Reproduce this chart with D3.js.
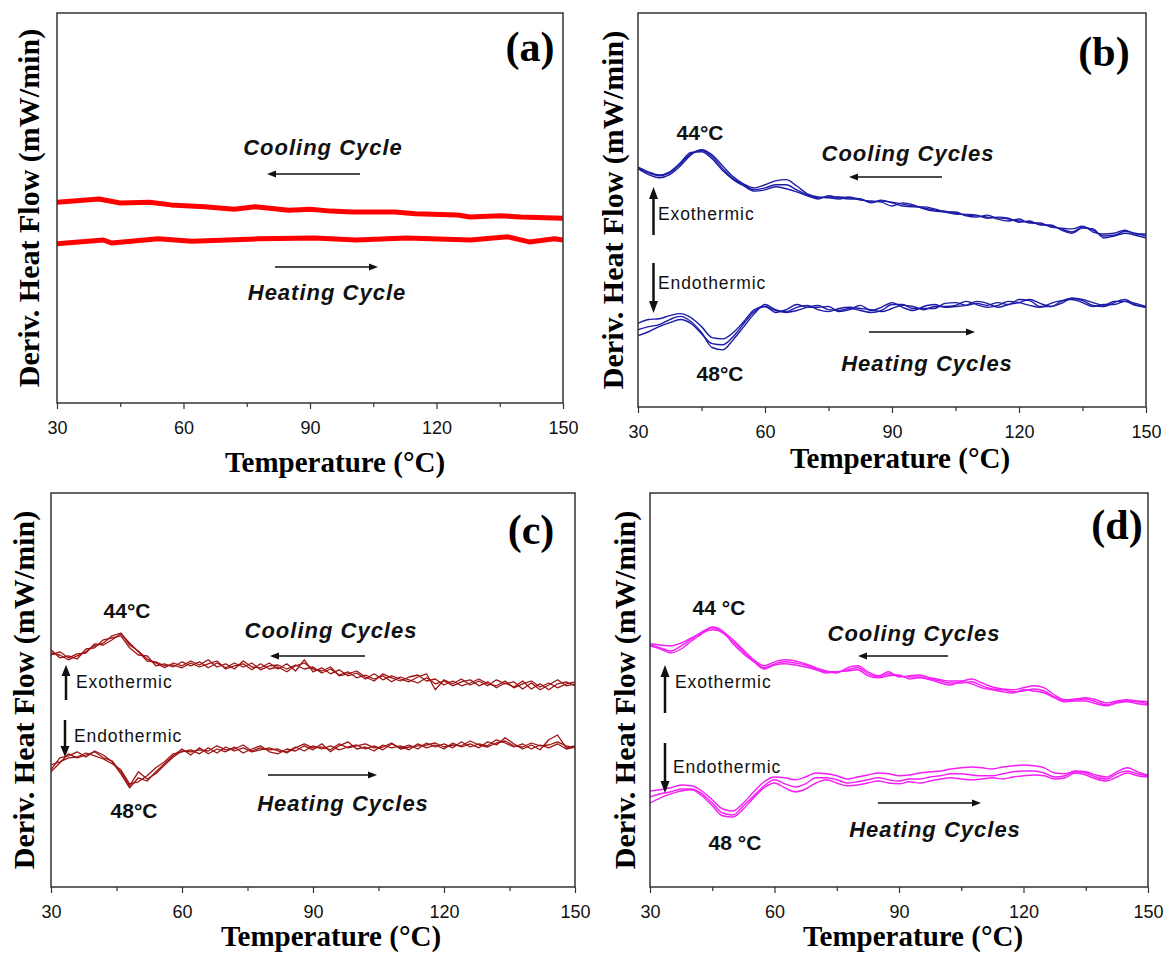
<!DOCTYPE html>
<html>
<head>
<meta charset="utf-8">
<script src="https://cdn.jsdelivr.net/npm/d3@7"></script>
<style>
  body { margin: 0; background: #fff; }
</style>
</head>
<body>
<script>
// x ticks shared by every panel
var xMajor = [30, 60, 90, 120, 150];
var xMinor = [45, 75, 105, 135];

// panel (a) - single cycle each, arbitrary units
var tempA_cool = [30, 40, 45, 52, 57, 65, 72, 77, 85, 90, 95, 100, 110, 115, 125, 128, 135, 140, 150];
var flowA_cool = [51.5, 52.3, 51.3, 51.5, 50.8, 50.3, 49.7, 50.3, 49.4, 49.7, 49.2, 49.0, 49.0, 48.5, 48.2, 47.7, 48.0, 47.7, 47.4];
var tempA_heat = [30, 41, 43, 54, 62, 78, 91, 101, 113, 128, 137, 142, 148, 150];
var flowA_heat = [40.8, 41.8, 41.0, 42.1, 41.5, 42.1, 42.3, 41.8, 42.3, 41.8, 42.6, 41.3, 42.1, 41.8];

// temperature grid for (b) and (d)
var tempBD = [30, 32.5, 35, 37.5, 40, 42.5, 45, 47.5, 50, 52.5, 55, 57.5, 60, 62.5, 65, 67.5, 70, 72.5, 75, 77.5,
  80, 82.5, 85, 87.5, 90, 92.5, 95, 97.5, 100, 102.5, 105, 107.5, 110, 112.5, 115, 117.5, 120, 122.5, 125, 127.5,
  130, 132.5, 135, 137.5, 140, 142.5, 145, 147.5, 150];

// panel (b) - three cycles
var flowB_cool1 = [60.7, 59.4, 58.7, 59.4, 61.7, 64.3, 65.1, 63.5, 60.5, 57.9, 56.4, 55.1, 55.6, 56.4, 56.4, 55.1, 53.8, 53.1, 53.3, 53.3,
  53.1, 52.8, 52.0, 52.3, 52.0, 51.5, 51.0, 50.5, 50.0, 49.7, 49.2, 48.7, 48.5, 48.2, 48.0, 47.7, 47.2, 46.9, 46.4, 45.9,
  45.2, 44.4, 45.7, 44.9, 43.4, 43.6, 44.6, 44.1, 43.4];
var flowB_cool2 = [60.5, 59.0, 58.2, 59.0, 61.2, 64.0, 65.3, 64.0, 61.2, 58.4, 56.6, 55.6, 56.4, 57.4, 57.7, 56.1, 54.1, 53.3, 53.1, 52.8,
  53.3, 52.5, 52.3, 52.0, 51.0, 51.8, 51.3, 50.3, 49.7, 49.5, 49.5, 48.5, 48.2, 48.7, 47.7, 47.2, 47.7, 46.7, 46.7, 45.7,
  45.4, 45.2, 45.9, 44.4, 43.9, 44.1, 44.9, 43.9, 43.9];
var flowB_cool3 = [60.9, 59.7, 58.9, 59.7, 62.0, 64.6, 64.8, 63.0, 60.0, 57.7, 56.1, 54.8, 55.1, 55.9, 55.4, 54.6, 53.6, 52.8, 53.6, 53.1,
  52.8, 52.8, 51.8, 52.5, 51.8, 51.0, 50.8, 50.8, 50.3, 49.5, 49.0, 48.9, 48.7, 47.9, 48.2, 47.9, 46.9, 47.2, 46.2, 46.2,
  44.9, 44.1, 45.4, 45.2, 42.9, 43.4, 44.1, 43.6, 42.9];
var flowB_heat1 = [19.6, 20.4, 20.9, 22.2, 23.0, 21.7, 18.9, 15.1, 14.5, 17.1, 20.4, 23.7, 26.0, 24.7, 24.0, 24.5, 25.3, 25.8, 24.7, 24.5,
  25.0, 24.5, 24.0, 24.5, 26.0, 26.0, 25.0, 25.0, 25.0, 26.3, 26.5, 25.8, 26.3, 25.8, 26.5, 26.0, 27.3, 27.0, 25.5, 25.5,
  26.8, 27.6, 27.0, 25.8, 25.5, 26.5, 27.3, 26.0, 25.3];
var flowB_heat2 = [18.1, 19.1, 20.4, 21.4, 22.2, 21.2, 18.6, 16.1, 15.8, 17.9, 21.2, 24.2, 25.5, 24.5, 24.2, 25.3, 25.8, 24.7, 24.2, 25.0,
  25.3, 25.0, 24.7, 24.2, 25.0, 25.8, 25.5, 24.7, 25.5, 25.5, 25.8, 26.8, 26.0, 25.3, 25.8, 26.8, 26.5, 25.8, 25.3, 26.3,
  27.0, 27.3, 26.5, 25.5, 26.0, 26.0, 26.8, 25.8, 25.3];
var flowB_heat3 = [21.2, 22.2, 22.4, 23.2, 23.7, 22.7, 20.4, 17.6, 17.3, 18.9, 21.7, 24.7, 25.5, 24.0, 24.7, 26.0, 25.3, 25.3, 25.5, 24.2,
  24.7, 25.8, 24.5, 25.3, 26.5, 25.3, 24.5, 25.5, 26.0, 25.3, 25.5, 25.8, 26.8, 26.3, 25.3, 26.0, 26.5, 27.3, 26.3, 25.5,
  26.3, 27.6, 27.3, 26.5, 25.8, 26.8, 26.8, 26.3, 25.5];

// temperature grid for (c)
var tempC = [30, 32, 34, 36, 38, 40, 42, 44, 46, 48, 50, 52, 54, 56, 58, 60, 62, 64, 66, 68,
  70, 72, 74, 76, 78, 80, 82, 84, 86, 88, 90, 92, 94, 96, 98, 100, 102, 104, 106, 108,
  110, 112, 114, 116, 118, 120, 122, 124, 126, 128, 130, 132, 134, 136, 138, 140, 142, 144, 146, 148, 150];

// panel (c) - three cycles, noisy
var flowC_cool1 = [58.5, 58.0, 56.8, 57.8, 58.8, 60.3, 61.0, 62.8, 63.5, 60.5, 59.0, 57.0, 56.0, 54.8, 56.0, 55.3, 56.5, 55.5, 56.8, 55.0,
  55.8, 54.5, 56.5, 55.0, 54.8, 56.0, 54.5, 55.8, 54.0, 56.8, 53.8, 54.8, 53.3, 54.3, 52.8, 53.5, 52.0, 53.3, 51.8, 52.8,
  52.0, 51.3, 52.5, 53.3, 49.3, 51.8, 50.8, 52.0, 50.5, 51.5, 50.3, 51.8, 50.8, 51.3, 49.5, 51.0, 49.3, 50.5, 51.8, 50.3, 50.8];
var flowC_cool2 = [59.3, 57.3, 57.8, 57.0, 59.5, 59.8, 61.8, 62.3, 62.8, 59.8, 58.0, 57.8, 55.3, 55.8, 55.0, 56.3, 55.3, 56.3, 54.8, 56.0,
  54.8, 56.0, 55.0, 56.0, 54.3, 55.3, 55.5, 54.5, 55.5, 54.5, 55.0, 53.5, 54.5, 53.0, 53.8, 52.3, 53.0, 52.0, 52.8, 51.3,
  52.5, 51.8, 51.0, 52.3, 50.8, 51.5, 50.3, 51.3, 51.8, 50.3, 51.3, 49.8, 51.0, 50.0, 51.5, 49.5, 50.8, 49.3, 50.8, 51.3, 50.3];
var flowC_cool3 = [58.0, 58.8, 57.3, 58.3, 58.5, 60.8, 60.5, 61.8, 63.3, 61.0, 58.8, 56.5, 56.3, 55.3, 55.5, 54.8, 56.0, 55.0, 55.8, 56.5,
  54.5, 55.3, 55.8, 54.3, 55.8, 54.5, 55.0, 53.8, 55.3, 56.0, 54.5, 54.0, 55.0, 52.8, 53.3, 54.0, 52.5, 51.5, 53.3, 52.3,
  51.5, 52.5, 53.0, 51.5, 52.0, 50.5, 51.5, 50.3, 51.0, 52.0, 50.8, 50.3, 51.5, 49.8, 50.8, 51.5, 50.0, 51.0, 49.8, 50.8, 51.3];
var flowC_heat1 = [29.3, 32.3, 32.8, 33.8, 32.5, 34.0, 33.0, 31.3, 28.3, 24.8, 27.3, 26.5, 28.8, 30.8, 32.8, 34.5, 33.0, 34.8, 33.3, 34.5,
  33.8, 35.0, 33.5, 34.5, 35.3, 33.8, 33.3, 34.5, 34.0, 35.3, 34.3, 35.8, 33.8, 35.3, 36.3, 34.5, 35.0, 34.0, 35.5, 34.8,
  35.3, 34.3, 35.8, 34.8, 35.5, 34.5, 36.0, 35.0, 35.8, 34.8, 36.3, 35.5, 37.3, 35.8, 34.5, 35.5, 34.3, 36.8, 38.0, 34.8, 35.3];
var flowC_heat2 = [30.5, 31.3, 32.3, 32.5, 33.5, 32.8, 32.0, 30.8, 29.3, 25.8, 26.3, 27.8, 29.8, 31.3, 33.3, 33.8, 34.3, 33.3, 34.8, 33.5,
  35.0, 34.0, 34.8, 33.8, 34.3, 34.8, 34.0, 33.8, 35.0, 34.0, 35.3, 34.5, 35.3, 34.3, 35.0, 35.5, 34.5, 35.3, 34.3, 35.8,
  34.8, 35.5, 34.5, 36.0, 35.0, 35.8, 34.8, 36.3, 35.0, 35.8, 35.3, 36.8, 36.0, 35.0, 35.8, 34.5, 35.5, 34.8, 35.8, 34.5, 35.0];
var flowC_heat3 = [28.8, 31.0, 33.3, 32.3, 33.0, 33.8, 32.3, 31.5, 28.8, 25.3, 28.8, 27.0, 28.3, 30.5, 32.5, 34.0, 33.8, 34.3, 34.0, 35.3,
  34.3, 34.5, 35.5, 34.0, 34.8, 34.3, 34.5, 33.5, 34.8, 35.8, 34.8, 35.0, 34.3, 35.8, 34.8, 35.3, 35.8, 34.8, 35.0, 36.0,
  34.5, 35.0, 35.3, 35.5, 36.0, 35.0, 35.5, 35.3, 36.5, 35.5, 35.0, 36.0, 36.5, 35.3, 35.0, 36.0, 35.3, 35.5, 36.3, 35.3, 34.8];

// panel (d) - three cycles
var flowD_cool1 = [60.5, 59.8, 59.0, 60.3, 62.0, 63.8, 64.8, 63.5, 61.3, 58.8, 56.5, 54.8, 55.8, 56.3, 56.0, 55.5, 54.5, 53.8, 53.8, 54.3,
  54.8, 53.3, 52.5, 53.3, 52.8, 52.5, 52.5, 52.0, 51.5, 51.0, 51.0, 51.3, 50.3, 49.5, 49.3, 48.8, 49.0, 49.5, 49.0, 47.5,
  46.5, 46.8, 47.0, 46.3, 45.5, 46.3, 46.5, 46.3, 45.8];
var flowD_cool2 = [60.8, 60.5, 60.3, 61.0, 62.3, 63.5, 64.3, 63.8, 61.8, 59.3, 56.8, 55.3, 56.3, 56.8, 56.5, 55.8, 54.8, 54.0, 53.5, 54.8,
  55.3, 53.8, 52.8, 53.8, 52.5, 52.8, 53.0, 52.3, 51.8, 51.5, 51.5, 52.0, 51.0, 50.0, 49.5, 49.3, 49.8, 50.3, 49.8, 48.0,
  46.8, 47.0, 47.3, 46.8, 46.0, 46.5, 46.8, 46.5, 46.3];
var flowD_cool3 = [60.3, 59.5, 58.5, 59.5, 61.5, 63.3, 65.0, 64.0, 60.8, 58.3, 56.3, 54.5, 55.5, 55.8, 55.5, 55.0, 54.3, 53.5, 53.8, 54.0,
  54.3, 52.8, 52.3, 52.8, 53.0, 52.0, 52.3, 51.8, 51.0, 50.5, 51.3, 50.8, 49.8, 49.3, 48.8, 48.5, 49.3, 49.0, 48.5, 47.3,
  46.3, 46.5, 46.5, 45.8, 45.3, 46.0, 46.3, 45.8, 45.5];
var flowD_heat1 = [22.5, 23.3, 23.8, 24.5, 24.5, 23.3, 21.0, 18.5, 18.0, 20.3, 22.8, 25.3, 26.8, 25.8, 25.0, 25.8, 27.3, 27.3, 26.8, 26.0,
  26.3, 26.8, 27.3, 26.8, 26.5, 27.0, 27.0, 27.5, 27.8, 28.3, 28.3, 28.0, 27.8, 27.8, 28.3, 28.8, 29.0, 29.0, 28.5, 27.5,
  27.8, 28.8, 28.5, 27.5, 27.0, 28.3, 29.0, 28.3, 27.8];
var flowD_heat2 = [24.0, 24.3, 24.8, 25.5, 25.3, 24.0, 21.8, 19.5, 19.0, 21.0, 23.8, 26.3, 27.5, 27.3, 26.8, 27.5, 28.5, 28.3, 27.8, 27.0,
  27.5, 28.0, 28.5, 28.3, 27.8, 28.0, 28.5, 28.8, 29.0, 29.5, 29.8, 30.0, 29.8, 29.5, 30.0, 30.3, 30.5, 30.3, 29.8, 28.5,
  28.3, 29.0, 28.8, 28.0, 27.5, 28.8, 29.8, 28.8, 28.0];
var flowD_heat3 = [21.0, 22.3, 23.3, 24.0, 24.3, 22.8, 20.3, 17.8, 17.5, 19.5, 22.3, 24.8, 26.0, 24.8, 23.8, 24.5, 26.0, 26.8, 26.0, 25.3,
  25.5, 26.0, 26.5, 26.0, 25.8, 26.3, 26.0, 26.5, 27.0, 27.3, 27.0, 26.8, 27.0, 27.3, 27.0, 27.5, 27.8, 28.0, 27.8, 27.0,
  27.3, 28.5, 28.0, 27.0, 26.5, 27.5, 28.5, 27.8, 27.5];

var SERIF = "'Liberation Serif', 'Times New Roman', serif";
var SANS = "'Liberation Sans', Arial, sans-serif";

var svg = d3.select("body").append("svg")
  .attr("width", 1164)
  .attr("height", 954);

var panels = [
  { letter: "(a)", box: [57, 13, 563, 403], yMax: 100, color: "#ff0000", lw: 5, curve: d3.curveLinear,
    series: [[tempA_cool, flowA_cool], [tempA_heat, flowA_heat]],
    letterPos: [530, 47], yLabelX: 39, xLabelPos: [335, 462] },
  { letter: "(b)", box: [638, 13, 1146, 407], yMax: 100, color: "#1c1ca8", lw: 1.4, curve: d3.curveMonotoneX,
    series: [[tempBD, flowB_cool1], [tempBD, flowB_cool2], [tempBD, flowB_cool3],
             [tempBD, flowB_heat1], [tempBD, flowB_heat2], [tempBD, flowB_heat3]],
    letterPos: [1104, 52], yLabelX: 623, xLabelPos: [900, 458] },
  { letter: "(c)", box: [51, 493, 575, 887], yMax: 98.5, color: "#9e1414", lw: 1.3, curve: d3.curveLinear,
    series: [[tempC, flowC_cool1], [tempC, flowC_cool2], [tempC, flowC_cool3],
             [tempC, flowC_heat1], [tempC, flowC_heat2], [tempC, flowC_heat3]],
    letterPos: [531, 530], yLabelX: 34, xLabelPos: [331, 936] },
  { letter: "(d)", box: [650, 493, 1148, 887], yMax: 98.5, color: "#f51ef5", lw: 1.4, curve: d3.curveMonotoneX,
    series: [[tempBD, flowD_cool1], [tempBD, flowD_cool2], [tempBD, flowD_cool3],
             [tempBD, flowD_heat1], [tempBD, flowD_heat2], [tempBD, flowD_heat3]],
    letterPos: [1117, 525], yLabelX: 635, xLabelPos: [913, 936] }
];

panels.forEach(function(p, i) {
  var left = p.box[0], top = p.box[1];
  var w = p.box[2] - left, h = p.box[3] - top;

  var x = d3.scaleLinear().domain([30, 150]).range([0, w]);
  var y = d3.scaleLinear().domain([0, p.yMax]).range([h, 0]);

  var g = svg.append("g").attr("transform", "translate(" + left + "," + top + ")");

  g.append("clipPath").attr("id", "clip" + i)
    .append("rect").attr("width", w).attr("height", h);

  var line = d3.line()
    .x(function(d) { return x(d[0]); })
    .y(function(d) { return y(d[1]); })
    .curve(p.curve);

  p.series.forEach(function(s) {
    var pts = s[0].map(function(t, k) { return [t, s[1][k]]; });
    g.append("path")
      .datum(pts)
      .attr("clip-path", "url(#clip" + i + ")")
      .attr("fill", "none")
      .attr("stroke", p.color)
      .attr("stroke-width", p.lw)
      .attr("stroke-linejoin", "round")
      .attr("d", line);
  });

  // frame
  g.append("rect")
    .attr("width", w).attr("height", h)
    .attr("fill", "none")
    .attr("stroke", "#333")
    .attr("stroke-width", 1.5);

  // bottom axis, major + minor
  var ax = g.append("g")
    .attr("transform", "translate(0," + h + ")")
    .call(d3.axisBottom(x).tickValues(xMajor).tickSize(6).tickPadding(12));
  ax.select(".domain").remove();
  ax.selectAll("line").attr("stroke", "#333").attr("stroke-width", 1.2);
  ax.selectAll("text").attr("font-family", SANS).attr("font-size", 18).attr("fill", "#111");

  var axm = g.append("g")
    .attr("transform", "translate(0," + h + ")")
    .call(d3.axisBottom(x).tickValues(xMinor).tickSize(4).tickFormat(""));
  axm.select(".domain").remove();
  axm.selectAll("line").attr("stroke", "#333").attr("stroke-width", 1.2);

  // titles
  svg.append("text")
    .attr("x", p.xLabelPos[0]).attr("y", p.xLabelPos[1])
    .attr("text-anchor", "middle").attr("dominant-baseline", "central")
    .attr("font-family", SERIF).attr("font-weight", "bold").attr("font-size", 29)
    .text("Temperature (°C)");

  svg.append("text")
    .attr("transform", "translate(" + p.yLabelX + "," + (top + h / 2) + ") rotate(-90)")
    .attr("text-anchor", "middle")
    .attr("font-family", SERIF).attr("font-weight", "bold").attr("font-size", 30)
    .text("Deriv. Heat Flow (mW/min)");

  svg.append("text")
    .attr("x", p.letterPos[0]).attr("y", p.letterPos[1])
    .attr("text-anchor", "middle").attr("dominant-baseline", "central")
    .attr("font-family", SERIF).attr("font-weight", "bold").attr("font-size", 42)
    .text(p.letter);
});

// annotations: [text, x, y, kind]
var labels = [
  ["Cooling Cycle", 323, 147, "cyc"], ["Heating Cycle", 327, 292, "cyc"],
  ["44°C", 700, 132, "peak"], ["Cooling Cycles", 908, 153, "cyc"], ["48°C", 720, 373, "peak"],
  ["Heating Cycles", 927, 363, "cyc"], ["Exothermic", 658, 214, "exo"], ["Endothermic", 658, 283, "exo"],
  ["44°C", 127, 610, "peak"], ["Cooling Cycles", 331, 630, "cyc"], ["48°C", 134, 810, "peak"],
  ["Heating Cycles", 343, 803, "cyc"], ["Exothermic", 76, 682, "exo"], ["Endothermic", 74, 736, "exo"],
  ["44 °C", 719, 607, "peak"], ["Cooling Cycles", 914, 633, "cyc"], ["48 °C", 735, 842, "peak"],
  ["Heating Cycles", 935, 829, "cyc"], ["Exothermic", 675, 682, "exo"], ["Endothermic", 673, 767, "exo"]
];

labels.forEach(function(l) {
  var t = svg.append("text")
    .attr("x", l[1]).attr("y", l[2])
    .attr("dominant-baseline", "central")
    .attr("font-family", SANS)
    .attr("fill", "#111")
    .text(l[0]);
  if (l[3] === "cyc") {
    t.attr("text-anchor", "middle").attr("font-weight", "bold").attr("font-style", "italic")
      .attr("font-size", 22).attr("letter-spacing", 1);
  } else if (l[3] === "peak") {
    t.attr("text-anchor", "middle").attr("font-weight", "bold").attr("font-size", 21);
  } else {
    t.attr("text-anchor", "start").attr("font-size", 17.5).attr("letter-spacing", 0.9);
  }
});

// arrows: [x1, y1, x2, y2, lineWidth, headLength, headHalfWidth]
var arrows = [
  [360, 174, 267, 174, 1.5, 9, 3.5], [275, 267, 378, 267, 1.5, 9, 3.5],
  [942, 177, 849, 177, 1.5, 9, 3.5], [869, 332, 975, 332, 1.5, 9, 3.5],
  [653.5, 235, 653.5, 187, 2.5, 12, 4.5], [653.5, 263, 653.5, 313, 2.5, 12, 4.5],
  [365, 656, 270, 656, 1.5, 9, 3.5], [268, 775, 377, 775, 1.5, 9, 3.5],
  [66, 700, 66, 665, 2.5, 11, 4.5], [65, 720, 65, 757, 2.5, 11, 4.5],
  [948, 656, 858, 656, 1.5, 9, 3.5], [878, 803, 981, 803, 1.5, 9, 3.5],
  [665, 713, 665, 665, 2.5, 12, 4.5], [665, 743, 665, 793, 2.5, 12, 4.5]
];

arrows.forEach(function(a) {
  var dx = a[2] - a[0], dy = a[3] - a[1];
  var len = Math.sqrt(dx * dx + dy * dy);
  var ux = dx / len, uy = dy / len;
  var bx = a[2] - ux * a[5], by = a[3] - uy * a[5];
  svg.append("line")
    .attr("x1", a[0]).attr("y1", a[1]).attr("x2", bx).attr("y2", by)
    .attr("stroke", "#111").attr("stroke-width", a[4]);
  svg.append("path")
    .attr("d", "M" + a[2] + "," + a[3] +
      "L" + (bx - uy * a[6]) + "," + (by + ux * a[6]) +
      "L" + (bx + uy * a[6]) + "," + (by - ux * a[6]) + "Z")
    .attr("fill", "#111");
});
</script>
</body>
</html>
